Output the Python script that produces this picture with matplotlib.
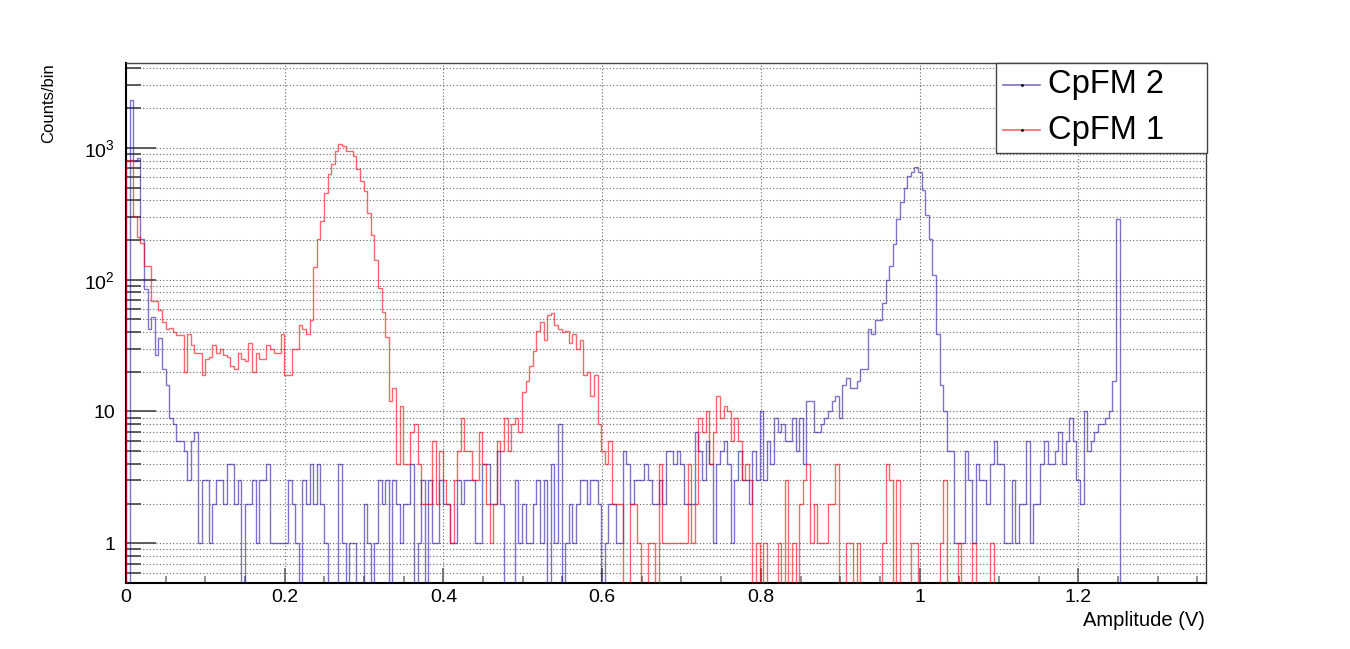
import numpy as np
import matplotlib
matplotlib.use("Agg")
import matplotlib.pyplot as plt
from matplotlib.lines import Line2D
from matplotlib.patches import Rectangle
from matplotlib.ticker import FixedLocator, FixedFormatter, LogLocator, NullFormatter

plt.rcParams["font.family"] = ["Liberation Sans", "DejaVu Sans"]
plt.rcParams["mathtext.fontset"] = "custom"
plt.rcParams["mathtext.rm"] = "Liberation Sans"
plt.rcParams["mathtext.it"] = "Liberation Sans:italic"

# --- histogram contents (300 bins from 0 to XMAX) ---
XMAX = 1.361
CPFM2 = np.array([
    0, 2310, 800, 830, 203, 85, 42, 52, 27, 36,
    21, 16, 9, 8, 6, 6, 5, 3, 6, 7,
    1, 3, 3, 1, 2, 3, 3, 2, 4, 4,
    2, 3, 0, 2, 2, 3, 1, 3, 3, 4,
    1, 1, 1, 1, 1, 3, 2, 1, 0, 3,
    2, 4, 2, 4, 2, 1, 0, 0, 0, 4,
    1, 0, 1, 1, 0, 0, 2, 1, 0, 1,
    3, 2, 3, 0, 3, 2, 1, 2, 2, 4,
    0, 1, 3, 0, 3, 1, 1, 3, 2, 2,
    1, 1, 3, 2, 3, 3, 3, 1, 1, 4,
    4, 2, 2, 5, 2, 0, 0, 0, 3, 1,
    2, 1, 1, 2, 3, 1, 3, 0, 4, 1,
    8, 0, 1, 2, 1, 2, 3, 3, 2, 3,
    3, 2, 0, 1, 2, 2, 1, 1, 5, 4,
    2, 3, 3, 3, 4, 3, 2, 2, 3, 2,
    5, 5, 4, 5, 4, 2, 2, 2, 7, 5,
    3, 6, 4, 1, 4, 5, 6, 4, 1, 3,
    5, 3, 3, 2, 5, 3, 10, 3, 6, 4,
    9, 7, 8, 6, 6, 9, 5, 9, 4, 12,
    12, 7, 7, 8, 9, 10, 12, 13, 9, 16,
    18, 15, 15, 17, 21, 21, 42, 39, 49, 49,
    66, 100, 127, 188, 286, 387, 494, 607, 655, 710,
    660, 478, 311, 203, 109, 39, 16, 10, 5, 5,
    1, 1, 1, 5, 3, 1, 4, 3, 3, 2,
    4, 6, 4, 4, 1, 1, 3, 1, 2, 2,
    6, 1, 2, 2, 4, 6, 4, 4, 5, 7,
    4, 6, 9, 6, 3, 2, 10, 5, 6, 7,
    8, 8, 9, 10, 17, 286, 0, 0, 0, 0,
    0, 0, 0, 0, 0, 0, 0, 0, 0, 0,
    0, 0, 0, 0, 0, 0, 0, 0, 0, 0,
], dtype=float)

CPFM1 = np.array([
    800, 814, 303, 209, 190, 127, 127, 69, 69, 59,
    48, 42, 43, 40, 38, 38, 20, 39, 32, 28,
    28, 19, 25, 26, 32, 28, 30, 27, 26, 22,
    21, 28, 25, 24, 33, 20, 28, 25, 25, 32,
    30, 28, 28, 39, 19, 19, 30, 30, 45, 42,
    39, 49, 125, 203, 278, 456, 635, 753, 954, 1073,
    1030, 950, 940, 863, 689, 561, 472, 322, 219, 141,
    87, 57, 37, 12, 15, 4, 11, 4, 4, 7,
    8, 4, 2, 2, 2, 6, 2, 5, 3, 2,
    1, 3, 5, 9, 5, 5, 3, 3, 7, 4,
    2, 1, 2, 6, 5, 9, 5, 8, 9, 7,
    14, 17, 22, 29, 41, 48, 35, 54, 56, 45,
    42, 40, 41, 33, 39, 30, 35, 19, 20, 13,
    19, 8, 5, 4, 6, 2, 2, 2, 0, 0,
    2, 2, 1, 0, 0, 1, 1, 0, 4, 1,
    1, 1, 1, 1, 1, 1, 4, 1, 2, 9,
    7, 10, 4, 7, 13, 9, 11, 10, 6, 9,
    6, 3, 4, 3, 0, 1, 0, 1, 0, 0,
    0, 1, 0, 3, 0, 1, 0, 2, 3, 4,
    1, 2, 1, 1, 1, 2, 2, 4, 0, 0,
    1, 1, 0, 1, 0, 0, 0, 0, 0, 0,
    1, 4, 3, 0, 3, 0, 0, 0, 1, 1,
    0, 0, 0, 0, 0, 0, 1, 3, 0, 0,
    0, 1, 0, 0, 0, 1, 0, 0, 0, 0,
    1, 0, 0, 0, 0, 0, 0, 0, 0, 0,
    0, 0, 0, 0, 0, 0, 0, 0, 0, 0,
    0, 0, 0, 0, 0, 0, 0, 0, 0, 0,
    0, 0, 0, 0, 0, 0, 0, 0, 0, 0,
    0, 0, 0, 0, 0, 0, 0, 0, 0, 0,
    0, 0, 0, 0, 0, 0, 0, 0, 0, 0,
], dtype=float)

SERIES = ["CpFM 2", "CpFM 1"]
XTICKS = [0, 0.2, 0.4, 0.6, 0.8, 1.0, 1.2]
XTICKLABELS = ["0", "0.2", "0.4", "0.6", "0.8", "1", "1.2"]
YTICKS = [1, 10, 100, 1000]
YTICKLABELS = ["1", "10", r"$\mathregular{10^{2}}$", r"$\mathregular{10^{3}}$"]

BLUE = "#2316ad"
RED = "#ff000d"
W, H = 1350, 649


def fx(px):
    return px / W


def fy(py):
    return 1 - py / H


fig = plt.figure(figsize=(13.5, 6.49), dpi=100)
ax = fig.add_axes([fx(126), fy(583), fx(1206) - fx(126), fy(63) - fy(583)])

edges = np.linspace(0, XMAX, len(CPFM2) + 1)
floor = 0.01  # empty bins sit on the bottom of the frame, like ROOT
for vals, col in ((CPFM2, BLUE), (CPFM1, RED)):
    ax.stairs(np.where(vals > 0, vals, floor), edges, baseline=floor,
              color=col, alpha=0.6, lw=1.0, zorder=3)

ax.set_yscale("log")
ax.set_xlim(0, XMAX)
ax.set_ylim(0.5, 4400)

ax.xaxis.set_major_locator(FixedLocator(XTICKS))
ax.xaxis.set_major_formatter(FixedFormatter(XTICKLABELS))
ax.xaxis.set_minor_locator(FixedLocator(np.arange(0, XMAX, 0.05)))
ax.yaxis.set_major_locator(FixedLocator(YTICKS))
ax.yaxis.set_major_formatter(FixedFormatter(YTICKLABELS))
ax.yaxis.set_minor_locator(LogLocator(base=10, subs=np.arange(2, 10)))
ax.yaxis.set_minor_formatter(NullFormatter())

ax.tick_params(axis="x", which="major", direction="in", length=11, width=1.1,
               color="#555555", labelsize=14, pad=4)
ax.tick_params(axis="x", which="minor", direction="in", length=5, width=1.1,
               color="#777777")
ax.tick_params(axis="y", which="major", direction="in", length=21.5, width=1.2,
               color="#444444", labelsize=14, pad=8)
ax.tick_params(axis="y", which="minor", direction="in", length=10.8, width=1.2,
               color="#444444")

ax.set_axisbelow(True)
ax.grid(which="major", axis="both", color="#666666", lw=0.8, ls=(0, (1, 2)))
ax.grid(which="minor", axis="y", color="#666666", lw=0.8, ls=(0, (1, 2)))

for side in ("left", "bottom"):
    ax.spines[side].set_color("black")
    ax.spines[side].set_linewidth(1.5)
for side in ("top", "right"):
    ax.spines[side].set_color("#444444")
    ax.spines[side].set_linewidth(1.0)

fig.text(fx(49), fy(63), "Counts/bin", rotation=90, ha="center", va="top",
         fontsize=12)
fig.text(fx(1205), fy(620), "Amplitude (V)", ha="right", va="center",
         fontsize=14.5)

# legend box drawn by hand (ROOT TLegend look)
fig.patches.append(Rectangle((fx(996), fy(153)), fx(1207) - fx(996),
                             fy(63) - fy(153), transform=fig.transFigure,
                             facecolor="white", edgecolor="#444444", lw=1.0,
                             zorder=5))
for name, col, ypx in ((SERIES[0], BLUE, 85), (SERIES[1], RED, 130)):
    fig.lines.append(Line2D([fx(1003), fx(1040)], [fy(ypx), fy(ypx)],
                            transform=fig.transFigure, color=col, alpha=0.6,
                            lw=1.2, zorder=6))
    fig.lines.append(Line2D([fx(1021.5)], [fy(ypx)], transform=fig.transFigure,
                            marker="o", ms=1, color="black", zorder=7))
    fig.text(fx(1048), fy(ypx), name, ha="left", va="center", fontsize=23.5,
             zorder=7)

fig.savefig("out.png", dpi=100)
